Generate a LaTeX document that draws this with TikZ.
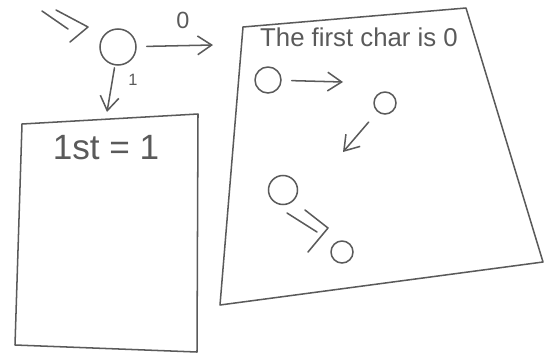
\documentclass[tikz,border=0pt]{standalone}
\usepackage{fontspec}
\setmainfont{Liberation Sans}
\usepackage{tkz-euclide}
\usetikzlibrary{arrows.meta}
\definecolor{pencil}{HTML}{5A5A5A}
\tikzset{
  pencil/.style={draw=pencil,line width=1.3pt,line cap=round,line join=round},
  state/.style={circle,pencil,inner sep=0pt},
  hand/.style={text=pencil,inner sep=0pt},
  handarrow/.style={pencil,-{Straight Barb[length=12pt,width=16pt,line width=1.3pt]}}
}

\begin{document}
\begin{tikzpicture}[x=0.03cm,y=-0.03cm]
  \useasboundingbox (0,0) rectangle (544,358);
  % start marker
  \tkzDefPoint(42,11){I1}
  \tkzDefPoint(68,29){I2}
  \tkzDefPoint(56,10){J1}
  \tkzDefPoint(88,27){J2}
  \tkzDefPoint(70,42){J3}
  \tkzDrawSegment[pencil](I1,I2)
  \draw[pencil] (J1) -- (J2) -- (J3);
  % first state
  \node[state,minimum size=1.08cm] (q0) at (118,47) {};
  \tkzDefPoint(213,45){E1}
  \tkzDefPoint(107,112){D1}
  \draw[handarrow,shorten <=0.3cm] (q0) -- (E1);
  \draw[handarrow,shorten <=2pt] (q0) -- (D1);
  \node[hand,font=\fontsize{20}{20}\selectfont] (lbl0) at (183,20) {0};
  \node[hand,font=\fontsize{14}{14}\selectfont] (lbl1) at (133,80) {1};
  % box for 1
  \tkzDefPoint(22,124){A}
  \tkzDefPoint(198,114){B}
  \tkzDefPoint(197,352){C}
  \tkzDefPoint(15,345){D}
  \tkzDrawPolygon[pencil](A,B,C,D)
  \node[hand,font=\fontsize{30}{30}\selectfont] (one) at (106,148) {1st = 1};
  % box for 0
  \tkzDefPoint(243,27){P}
  \tkzDefPoint(466,8){Q}
  \tkzDefPoint(543,262){R}
  \tkzDefPoint(220,305){S}
  \tkzDrawPolygon[pencil](P,Q,R,S)
  \node[hand,font=\fontsize{22}{22}\selectfont] (zero) at (359,37) {The first char is 0};
  \node[state,minimum size=0.78cm] (p0) at (268,80) {};
  \node[state,minimum size=0.66cm] (p1) at (385,103) {};
  \node[state,minimum size=0.87cm] (p2) at (283,190) {};
  \node[state,minimum size=0.66cm] (p3) at (342,252) {};
  \tkzDefPoint(343,82){E2}
  \tkzDefPoint(343,152){E3}
  \draw[handarrow,shorten <=0.3cm] (p0) -- (E2);
  \draw[handarrow,shorten <=0.4cm] (p1) -- (E3);
  \tkzDefPoint(287,213){M1}
  \tkzDefPoint(317,232){M2}
  \tkzDefPoint(305,210){N1}
  \tkzDefPoint(328,228){N2}
  \tkzDefPoint(308,252){N3}
  \tkzDrawSegment[pencil](M1,M2)
  \draw[pencil] (N1) -- (N2) -- (N3);
\end{tikzpicture}
\end{document}
